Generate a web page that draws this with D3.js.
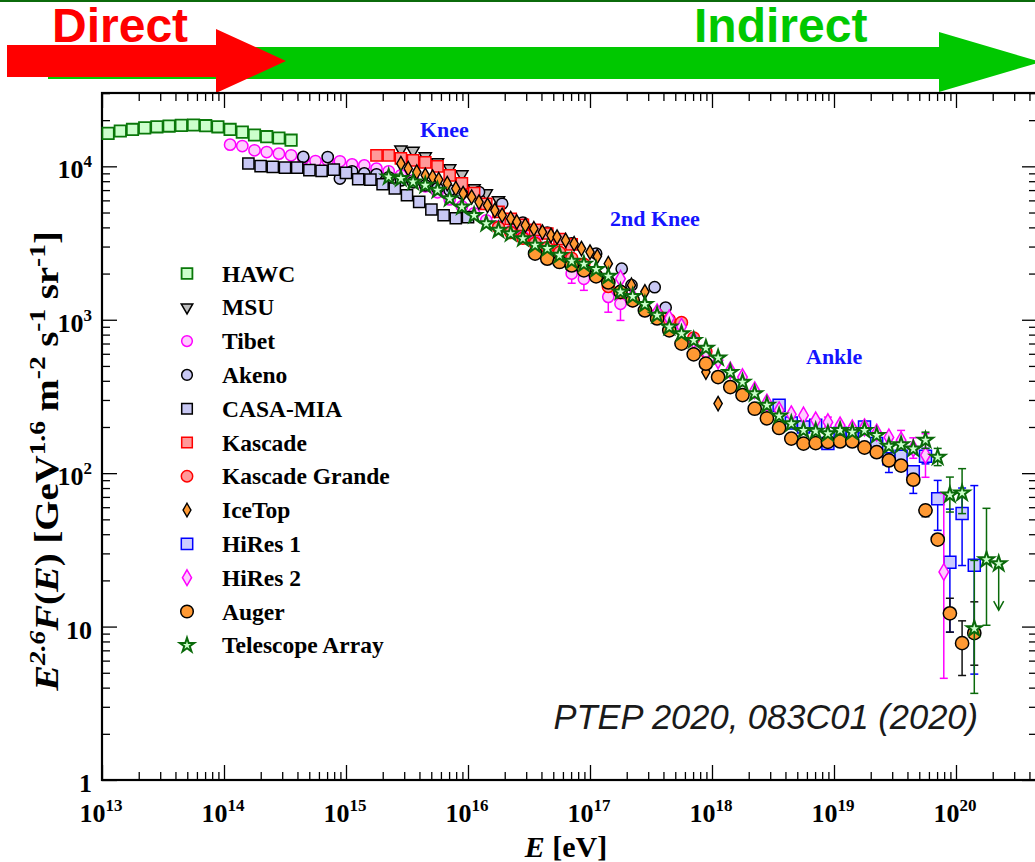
<!DOCTYPE html>
<html>
<head>
<meta charset="utf-8">
<script src="https://cdn.jsdelivr.net/npm/d3@7"></script>
<style>
  body { margin: 0; background: #fff; }
  svg { display: block; }
</style>
</head>
<body>
<script>
// Cosmic ray all-particle spectrum, E^2.6 F(E) [GeV^1.6 m^-2 s^-1 sr^-1]
// Energies are given as log10(E / eV), fluxes as plain values.

const hawcLogE = [13.05, 13.15, 13.25, 13.35, 13.45, 13.55, 13.65, 13.75, 13.85, 13.95, 14.05, 14.15, 14.25, 14.35, 14.45, 14.55];
const hawcFlux = [16400, 17000, 17400, 17800, 18100, 18300, 18500, 18600, 18400, 18100, 17400, 16700, 16000, 15600, 15300, 14800];

const msuLogE = [15.45, 15.55, 15.65, 15.75, 15.85, 15.95, 16.05, 16.15, 16.25];
const msuFlux = [12850, 12620, 11620, 10620, 9700, 8870, 7190, 6670, 6000];

const tibetLogE = [14.05, 14.15, 14.25, 14.35, 14.45, 14.55, 14.65, 14.75, 14.85, 14.95, 15.05, 15.15, 15.25, 15.35,
  15.45, 15.55, 15.65, 15.75, 15.85, 15.95, 16.05, 16.15, 16.25, 16.35, 16.45, 16.55, 16.65, 16.75, 16.85, 16.95, 17.15, 17.25];
const tibetFlux = [13850, 13560, 12720, 12390, 12100, 11800, 11230, 10830, 10940, 10780, 10300, 10150, 9660, 9280,
  8740, 8100, 7410, 6770, 6090, 5480, 4940, 4450, 4060, 3770, 3500, 3250, 2970, 2630, 2000, 1850, 1410, 1270];
const tibetErrors = [[16.85, 1730, 2310], [16.95, 1555, 2210], [17.15, 1120, 1760], [17.25, 990, 1640]];

const akenoLogE = [14.65, 14.85, 14.95, 15.05, 15.15, 15.25, 15.35, 15.45, 15.55, 15.65, 15.75, 15.85, 15.95,
  16.09, 16.28, 16.45, 16.65, 16.85, 17.05, 17.26, 17.34, 17.53, 17.62];
const akenoFlux = [11530, 11500, 8320, 9280, 9000, 8870, 8480, 8100, 7870, 7520, 7190, 6980, 6670,
  6800, 5700, 4300, 3700, 3150, 2700, 2150, 1680, 1630, 1200];

const casaLogE = [14.2, 14.3, 14.4, 14.5, 14.6, 14.7, 14.8, 14.9, 15.0, 15.1, 15.2, 15.3, 15.4, 15.5, 15.6, 15.7, 15.8, 15.9, 16.0];
const casaFlux = [10430, 10020, 9910, 9820, 9820, 9440, 9330, 9530, 9060, 8240, 8200, 7640, 7170, 6480, 5860, 5230, 4800, 4590, 4660];

const kascadeLogE = [15.25, 15.35, 15.45, 15.55, 15.65, 15.75, 15.85, 15.95, 16.05, 16.15, 16.25, 16.35, 16.45, 16.55, 16.65, 16.75, 16.85];
const kascadeFlux = [11800, 11800, 11280, 10940, 10620, 10000, 8740, 7750, 6700, 5700, 5050, 4550, 4150, 3850, 3650, 3350, 3100];

const grandeLogE = [16.25, 16.35, 16.45, 16.55, 16.65, 16.75, 16.85, 16.95, 17.05, 17.15, 17.25, 17.35, 17.45, 17.55, 17.65, 17.75, 17.85, 17.95];
const grandeFlux = [4000, 3700, 3400, 3150, 2950, 2750, 2520, 2300, 1950, 1650, 1500, 1330, 1150, 1080, 1000, 960, 760, 620];

const icetopLogE = [15.45, 15.51, 15.58, 15.65, 15.71, 15.76, 15.83, 15.90, 15.96, 16.03, 16.09, 16.16, 16.22, 16.28, 16.35, 16.40,
  16.47, 16.54, 16.61, 16.68, 16.73, 16.80, 16.87, 16.93, 17.00, 17.06, 17.15, 17.34, 17.45, 17.95, 18.05];
const icetopFlux = [10410, 9660, 9180, 8740, 8520, 8190, 7710, 7160, 6640, 6310, 5850, 5570, 5170, 4800, 4560, 4340,
  4130, 3920, 3730, 3550, 3460, 3290, 3130, 2910, 2760, 2590, 2320, 1680, 1520, 456, 284];

const hires1LogE = [18.55, 18.65, 18.75, 18.85, 18.95, 19.05, 19.15, 19.25, 19.35, 19.45, 19.55, 19.65, 19.75, 19.85, 19.95, 20.05, 20.15];
const hires1Flux = [277, 212, 200, 205, 156, 182, 174, 200, 156, 124, 129, 102, 129, 68.2, 26.3, 54.5, 25.1];
const hires1Errors = [[19.45, 101, 126], [19.55, 120, 139], [19.65, 73.8, 104], [19.75, 115, 145], [19.85, 42.4, 89.7],
  [19.95, 9.2, 58.3], [20.05, 25, 80], [20.15, 4.9, 83]];

const hires2LogE = [17.25, 17.35, 17.45, 17.55, 17.65, 17.75, 17.85, 17.95, 18.05, 18.15, 18.25, 18.35, 18.45, 18.55,
  18.65, 18.75, 18.85, 18.95, 19.05, 19.15, 19.25, 19.35, 19.45, 19.55, 19.65, 19.75, 19.9];
const hires2Flux = [1850, 1420, 1220, 1120, 1020, 900, 734, 613, 544, 468, 423, 347, 289, 257,
  242, 238, 221, 215, 205, 196, 199, 184, 171, 164, 145, 131, 22.7];
const hires2Errors = [[18.95, 200, 232], [19.55, 145, 190], [19.65, 125, 170], [19.75, 94, 181], [19.9, 4.6, 73.8]];

const augerLogE = [16.55, 16.65, 16.75, 16.85, 16.95, 17.05, 17.15, 17.25, 17.35, 17.45, 17.55, 17.65, 17.75, 17.85, 17.95,
  18.05, 18.15, 18.25, 18.35, 18.45, 18.55, 18.65, 18.75, 18.85, 18.95, 19.05, 19.15, 19.25, 19.35, 19.45, 19.55,
  19.65, 19.75, 19.85, 19.95, 20.05, 20.15];
const augerFlux = [2700, 2500, 2380, 2260, 2100, 1920, 1750, 1520, 1340, 1150, 1020, 853, 699, 595, 517,
  423, 364, 323, 263, 228, 197, 168, 156, 157, 160, 161, 161, 147, 137, 121, 112,
  90.7, 57.2, 36.9, 12.2, 7.8, 9.07];
const augerErrors = [[19.65, 84, 97], [19.75, 52, 62], [19.85, 34.5, 39.5], [19.95, 9.2, 15.3], [20.05, 4.8, 10.9], [20.15, 5.6, 14.5]];

const taLogE = [15.35, 15.45, 15.55, 15.65, 15.75, 15.85, 15.95, 16.05, 16.15, 16.25, 16.35, 16.45, 16.55, 16.65, 16.75,
  16.85, 16.95, 17.05, 17.15, 17.25, 17.35, 17.45, 17.55, 17.65, 17.75, 17.85, 17.95, 18.05, 18.15, 18.25,
  18.35, 18.45, 18.55, 18.65, 18.75, 18.85, 18.95, 19.05, 19.15, 19.25, 19.35, 19.45, 19.55, 19.65, 19.75,
  19.85, 19.95, 20.05, 20.15, 20.25, 20.35];
const taFlux = [8520, 8320, 7900, 7520, 6980, 6160, 5430, 4790, 4230, 3830, 3640, 3380, 3060, 2910, 2630,
  2410, 2300, 2130, 1920, 1520, 1420, 1260, 1070, 896, 812, 734, 653, 564, 454, 392,
  330, 277, 236, 210, 190, 188, 181, 190, 185, 190, 176, 150, 153, 144, 164,
  127, 72.2, 74.2, 9.7, 27.3, 25.7];
const taErrors = [[19.75, 145, 185], [19.85, 112, 145], [19.95, 55.8, 94.3], [20.05, 54.5, 107], [20.15, 3.67, 27.0], [20.25, 10.2, 59]];
const taUpperLimits = [[20.35, 12.8]];

const legendNames = ["HAWC", "MSU", "Tibet", "Akeno", "CASA-MIA", "Kascade", "Kascade Grande", "IceTop", "HiRes 1", "HiRes 2", "Auger", "Telescope Array"];
const xTickExponents = [13, 14, 15, 16, 17, 18, 19, 20];
const yTickExponents = [0, 1, 2, 3, 4];

// Styles per series (same order as the legend)
const series = [
  { logE: hawcLogE, flux: hawcFlux, shape: d3.symbolSquare, size: 130, fill: "#ccffcc", stroke: "#0a780a", sw: 1.8 },
  { logE: msuLogE, flux: msuFlux, shape: d3.symbolTriangle, size: 64, rot: 180, fill: "#bdbdbd", stroke: "#000", sw: 1.5 },
  { logE: tibetLogE, flux: tibetFlux, err: tibetErrors, shape: d3.symbolCircle, size: 100, fill: "#ffccff", stroke: "#ff00ff", sw: 1.5 },
  { logE: akenoLogE, flux: akenoFlux, shape: d3.symbolCircle, size: 100, fill: "#c8c8f4", stroke: "#000", sw: 1.5 },
  { logE: casaLogE, flux: casaFlux, shape: d3.symbolSquare, size: 125, fill: "#c8c8f4", stroke: "#000", sw: 1.5 },
  { logE: kascadeLogE, flux: kascadeFlux, shape: d3.symbolSquare, size: 125, fill: "#ff9999", stroke: "#ff0000", sw: 1.5 },
  { logE: grandeLogE, flux: grandeFlux, shape: d3.symbolCircle, size: 113, fill: "#ff9999", stroke: "#ff0000", sw: 1.5 },
  { logE: icetopLogE, flux: icetopFlux, shape: d3.symbolDiamond, size: 60, fill: "#ff9933", stroke: "#000", sw: 1.4 },
  { logE: hires1LogE, flux: hires1Flux, err: hires1Errors, shape: d3.symbolSquare, size: 144, fill: "#ccccff", stroke: "#0000ff", sw: 1.5 },
  { logE: hires2LogE, flux: hires2Flux, err: hires2Errors, shape: d3.symbolDiamond, size: 80, fill: "#ffccff", stroke: "#ff00ff", sw: 1.5 },
  { logE: augerLogE, flux: augerFlux, err: augerErrors, shape: d3.symbolCircle, size: 138, fill: "#ff9933", stroke: "#000", errColor: "#111", sw: 1.5 },
  { logE: taLogE, flux: taFlux, err: taErrors, ul: taUpperLimits, shape: d3.symbolStar, size: 72, fill: "#ccffcc", stroke: "#0a6a0a", sw: 2 }
];

const width = 1035;
const height = 862;
const plot = { left: 102, right: 1037, top: 93, bottom: 780 };

const svg = d3.select("body").append("svg").attr("width", width).attr("height", height);

// Scales (log-log)
const x = d3.scaleLog().domain([1e13, Math.pow(10, 20.664)]).range([plot.left, plot.right]);
const y = d3.scaleLog().domain([1, Math.pow(10, 4.478)]).range([plot.bottom, plot.top]);

const serif = "'Liberation Serif', 'Times New Roman', serif";
const sans = "'Liberation Sans', Arial, sans-serif";

// Direct / Indirect arrows
svg.append("rect").attr("x", 0).attr("y", 0).attr("width", width).attr("height", 2).attr("fill", "#0b6b0b");
svg.append("path")
  .attr("d", "M48,47 L939,47 L939,32 L1041,62 L939,92 L939,79 L48,79 Z")
  .attr("fill", "#00c800");
svg.append("path")
  .attr("d", "M7,45 L216,45 L216,29 L286,61 L216,93 L216,77 L7,77 Z")
  .attr("fill", "#ff0000");
svg.append("text").attr("x", 52).attr("y", 42).attr("font-family", sans).attr("font-weight", "bold")
  .attr("font-size", 48).attr("fill", "#ff0000").text("Direct");
svg.append("text").attr("x", 694).attr("y", 42).attr("font-family", sans).attr("font-weight", "bold")
  .attr("font-size", 48).attr("fill", "#00c800").text("Indirect");

// Ticks
const xMajor = xTickExponents.map((e) => Math.pow(10, e));
const xMinor = [];
xTickExponents.forEach((e) => d3.range(2, 10).forEach((k) => {
  const v = k * Math.pow(10, e);
  if (v < x.domain()[1]) xMinor.push(v);
}));
const yMajor = yTickExponents.map((e) => Math.pow(10, e));
const yMinor = [];
yTickExponents.forEach((e) => d3.range(2, 10).forEach((k) => {
  const v = k * Math.pow(10, e);
  if (v < y.domain()[1]) yMinor.push(v);
}));

const axes = svg.append("g").attr("stroke-width", 1.3);
const addAxis = (axisFn, scale, values, size, transform) => {
  const g = axes.append("g").attr("transform", transform)
    .call(axisFn(scale).tickValues(values).tickSize(-size).tickSizeOuter(0).tickFormat(""));
  g.select(".domain").remove();
  g.selectAll("line").attr("stroke", "#000");
};
addAxis(d3.axisBottom, x, xMajor, 15, `translate(0,${plot.bottom})`);
addAxis(d3.axisBottom, x, xMinor, 8, `translate(0,${plot.bottom})`);
addAxis(d3.axisTop, x, xMajor, 15, `translate(0,${plot.top})`);
addAxis(d3.axisTop, x, xMinor, 8, `translate(0,${plot.top})`);
addAxis(d3.axisLeft, y, yMajor, 15, `translate(${plot.left},0)`);
addAxis(d3.axisLeft, y, yMinor, 8, `translate(${plot.left},0)`);
addAxis(d3.axisRight, y, yMajor, 15, `translate(${plot.right},0)`);
addAxis(d3.axisRight, y, yMinor, 8, `translate(${plot.right},0)`);

svg.append("rect")
  .attr("x", plot.left).attr("y", plot.top)
  .attr("width", plot.right - plot.left).attr("height", plot.bottom - plot.top)
  .attr("fill", "none").attr("stroke", "#000").attr("stroke-width", 2.2);

// Tick labels
const xLab = svg.append("g").attr("font-family", serif).attr("font-weight", "bold");
xTickExponents.forEach((e) => {
  const t = xLab.append("text").attr("x", x(Math.pow(10, e)) - 1).attr("y", 822)
    .attr("text-anchor", "middle").attr("font-size", 26);
  t.append("tspan").text("10");
  t.append("tspan").attr("font-size", 17).attr("dy", -11).text(e);
});
yTickExponents.forEach((e) => {
  const t = xLab.append("text").attr("x", 92).attr("y", y(Math.pow(10, e)) + 12)
    .attr("text-anchor", "end").attr("font-size", 26);
  if (e === 0) t.text("1");
  else if (e === 1) t.text("10");
  else {
    t.append("tspan").text("10");
    t.append("tspan").attr("font-size", 17).attr("dy", -11).text(e);
  }
});

// Axis titles
const xt = svg.append("text").attr("x", 566).attr("y", 857).attr("text-anchor", "middle")
  .attr("font-family", serif).attr("font-weight", "bold").attr("font-size", 30);
xt.append("tspan").attr("font-style", "italic").text("E");
xt.append("tspan").text(" [eV]");

// y title, stretched a little along its length
const yt = svg.append("text").attr("transform", "translate(58,461) rotate(-90) scale(1.14,1)").attr("text-anchor", "middle")
  .attr("font-family", serif).attr("font-weight", "bold").attr("font-size", 34);
const ySup = (txt, italic) => {
  yt.append("tspan").attr("font-size", 24).attr("dy", -13).attr("font-style", italic ? "italic" : null).text(txt);
};
const yBase = (txt, italic, first) => {
  yt.append("tspan").attr("dy", first ? 0 : 13).attr("font-style", italic ? "italic" : null).text(txt);
};
yBase("E", true, true);
ySup("2.6", true);
yBase("F", true);
yt.append("tspan").text("(");
yt.append("tspan").attr("font-style", "italic").text("E");
yt.append("tspan").text(") [GeV");
ySup("1.6");
yBase(" m");
ySup("-2");
yBase(" s");
ySup("-1");
yBase(" sr");
ySup("-1");
yBase("]");

// Data
const plotArea = svg.append("g");
const sym = (s, scale) => d3.symbol().type(s.shape).size(s.size * (scale || 1))();

series.forEach((s) => {
  const g = plotArea.append("g");
  const ec = s.errColor || s.stroke;
  if (s.err) {
    s.err.forEach(([le, lo, hi]) => {
      const cx = x(Math.pow(10, le));
      g.append("line").attr("x1", cx).attr("x2", cx).attr("y1", y(lo)).attr("y2", y(hi))
        .attr("stroke", ec).attr("stroke-width", 1.5);
      [lo, hi].forEach((v) => g.append("line").attr("x1", cx - 4).attr("x2", cx + 4)
        .attr("y1", y(v)).attr("y2", y(v)).attr("stroke", ec).attr("stroke-width", 1.5));
    });
  }
  if (s.ul) {
    s.ul.forEach(([le, to]) => {
      const cx = x(Math.pow(10, le));
      const i = s.logE.indexOf(le);
      g.append("line").attr("x1", cx).attr("x2", cx).attr("y1", y(s.flux[i])).attr("y2", y(to))
        .attr("stroke", ec).attr("stroke-width", 1.5);
      g.append("path").attr("d", `M${cx - 5},${y(to) - 9} L${cx},${y(to)} L${cx + 5},${y(to) - 9}`)
        .attr("fill", "none").attr("stroke", ec).attr("stroke-width", 1.5);
    });
  }
  g.selectAll("path.pt")
    .data(s.logE.map((le, i) => [le, s.flux[i]]))
    .join("path")
    .attr("class", "pt")
    .attr("d", sym(s))
    .attr("transform", (d) => `translate(${x(Math.pow(10, d[0]))},${y(d[1])})${s.rot ? ` rotate(${s.rot})` : ""}`)
    .attr("fill", s.fill)
    .attr("stroke", s.stroke)
    .attr("stroke-width", s.sw);
});

// Legend
const legend = svg.append("g").attr("font-family", serif).attr("font-weight", "bold").attr("font-size", 23.5);
legendNames.forEach((name, i) => {
  const s = series[i];
  const cy = 273.5 + i * 33.8;
  legend.append("path").attr("d", sym(s, 0.9))
    .attr("transform", `translate(187,${cy})${s.rot ? ` rotate(${s.rot})` : ""}`)
    .attr("fill", s.fill).attr("stroke", s.stroke).attr("stroke-width", s.sw);
  legend.append("text").attr("x", 222).attr("y", cy + 8).text(name);
});

// Annotations
const notes = svg.append("g").attr("font-family", serif).attr("font-weight", "bold").attr("font-size", 22).attr("fill", "#1414ff");
notes.append("text").attr("x", 420).attr("y", 137).text("Knee");
notes.append("text").attr("x", 610).attr("y", 226).text("2nd Knee");
notes.append("text").attr("x", 806).attr("y", 364).text("Ankle");

svg.append("text").attr("x", 978).attr("y", 729).attr("text-anchor", "end")
  .attr("font-family", sans).attr("font-style", "italic").attr("font-size", 34.5).attr("fill", "#1a1a1a")
  .text("PTEP 2020, 083C01 (2020)");
</script>
